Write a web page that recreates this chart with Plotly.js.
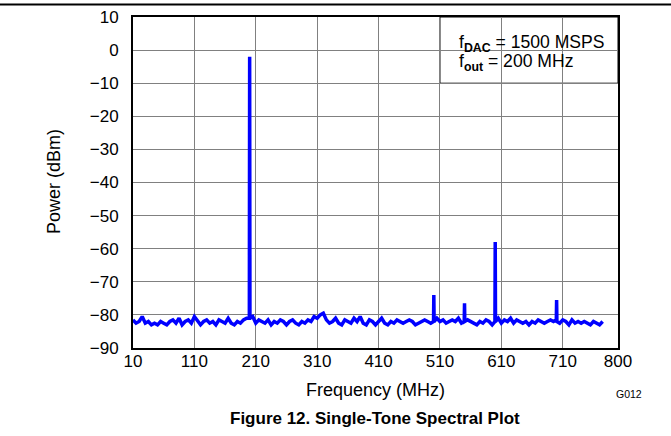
<!DOCTYPE html>
<html>
<head>
<meta charset="utf-8">
<script src="https://cdn.plot.ly/plotly-3.0.1.min.js"></script>
<style>html,body{margin:0;padding:0;background:#fff;}#chart{width:671px;height:436px;}</style>
</head>
<body>
<div id="chart"></div>
<script>
// Frequency (MHz)
const freq = [10,15,20,25,30,35,40,45,50,55,60,65,70,75,80,85,90,95,100,105,110,115,120,125,130,135,140,145,150,155,160,165,170,175,180,185,190,195,199.5,200,200.5,205,210,215,220,225,230,235,240,245,250,255,260,265,270,275,280,285,290,295,300,305,310,315,320,325,330,335,340,345,350,355,360,365,370,375,380,385,390,395,400,405,410,415,420,425,430,435,440,445,450,455,460,465,470,475,480,485,490,495,499.5,500,500.5,505,510,515,520,525,530,535,540,545,549.5,550,550.5,555,560,565,570,575,580,585,590,595,599.5,600,600.5,605,610,615,620,625,630,635,640,645,650,655,660,665,670,675,680,685,690,695,699.5,700,700.5,705,710,715,720,725,730,735,740,745,750,755,760,765,770,775];
// Power (dBm)
const power = [-81.5,-82.5,-82,-80.5,-82.5,-82,-83,-82.5,-83,-82,-82.5,-83,-82,-81.5,-82.5,-81,-83,-82,-81.5,-82.5,-80.5,-82,-83,-82,-81.5,-82.5,-82,-83,-81.5,-82,-82.5,-81,-82.5,-83,-82,-82.5,-81.5,-81,-81,-2,-81,-80.5,-82.5,-81.5,-82,-82.5,-81.5,-83,-82,-82.5,-81.5,-82,-83,-82,-81.5,-82.5,-83,-82,-82.5,-81.5,-82,-80.5,-81,-80,-79.5,-81.5,-82.5,-82,-81,-82.5,-83,-81.5,-82,-82.5,-81,-82,-80.5,-82.5,-83,-81.5,-82,-83,-82,-81,-82.5,-83,-82,-82.5,-81.5,-82,-82.5,-82,-81.5,-82,-83,-82.5,-82,-81.5,-82,-82.5,-82,-74,-82,-81,-82,-81.5,-82.5,-82,-81.5,-82,-81,-82.5,-82,-76.5,-82,-81.5,-82,-82.5,-83,-82,-82.5,-81.5,-82,-83,-82,-58,-82,-81,-82.5,-81.5,-82,-81,-82.5,-81.5,-82,-82.5,-82,-83,-82,-82.5,-81.5,-82,-82.5,-82,-81.5,-82,-81.5,-75.5,-82,-82.5,-81.5,-82,-83,-81.5,-82.5,-82,-82.5,-82,-82.5,-83,-82,-82.5,-83,-82];
const xTicks = [10,110,210,310,410,510,610,710,800];
const yTicks = [10,0,-10,-20,-30,-40,-50,-60,-70,-80,-90];

const font = "Liberation Sans, Arial, sans-serif";
const L = 133, T = 17, W = 485, H = 331;
const px = v => (v - L) / W;        // page x -> paper
const py = v => (T + H - v) / H;    // page y -> paper

const trace = {
  x: freq, y: power, type: 'scatter', mode: 'lines',
  line: {color: '#0000ff', width: 3.5}, hoverinfo: 'skip'
};
const layout = {
  width: 671, height: 436,
  margin: {l: L, r: 671 - L - W, t: T, b: 436 - T - H},
  paper_bgcolor: '#fff', plot_bgcolor: '#fff',
  font: {family: font, size: 17, color: '#000'},
  showlegend: false,
  xaxis: {
    range: [10, 800], tickvals: xTicks, ticktext: xTicks.map(String),
    showgrid: true, gridcolor: '#808080', gridwidth: 1,
    showline: true, linecolor: '#000', linewidth: 2, mirror: true,
    ticks: '', zeroline: false, tickfont: {size: 17}, ticklabelstandoff: -3
  },
  yaxis: {
    range: [-90, 10], tickvals: yTicks,
    showgrid: true, gridcolor: '#808080', gridwidth: 1,
    showline: true, linecolor: '#000', linewidth: 2, mirror: true,
    ticks: '', zeroline: false, tickfont: {size: 17}, ticklabelstandoff: 9
  },
  shapes: [
    {type: 'rect', xref: 'x', yref: 'y', x0: 510, x1: 800, y0: -10, y1: 10,
     fillcolor: '#fff', line: {color: '#000', width: 1}, layer: 'below'},
    {type: 'line', xref: 'paper', yref: 'paper', x0: px(-10), x1: px(690),
     y0: py(4.5), y1: py(4.5), line: {color: '#000', width: 2}}
  ],
  annotations: [
    {xref: 'paper', yref: 'paper', x: px(457), y: py(43), xanchor: 'left', yanchor: 'middle', showarrow: false,
     text: 'f<sub><b>DAC</b></sub> = 1500 MSPS', font: {size: 17.6}},
    {xref: 'paper', yref: 'paper', x: px(457), y: py(63), xanchor: 'left', yanchor: 'middle', showarrow: false,
     text: 'f<sub><b>out</b></sub> = 200 MHz', font: {size: 17.6}},
    {xref: 'paper', yref: 'paper', x: px(54), y: py(182), textangle: -90,
     xanchor: 'center', yanchor: 'middle', showarrow: false, text: 'Power (dBm)', font: {size: 18}},
    {xref: 'paper', yref: 'paper', x: px(375), y: py(390),
     xanchor: 'center', yanchor: 'middle', showarrow: false, text: 'Frequency (MHz)', font: {size: 18}},
    {xref: 'paper', yref: 'paper', x: px(629), y: py(394),
     xanchor: 'center', yanchor: 'middle', showarrow: false, text: 'G012', font: {size: 10.5}},
    {xref: 'paper', yref: 'paper', x: px(375), y: py(418),
     xanchor: 'center', yanchor: 'middle', showarrow: false,
     text: '<b>Figure 12. Single-Tone Spectral Plot</b>', font: {size: 17}}
  ]
};
Plotly.newPlot('chart', [trace], layout, {displayModeBar: false, staticPlot: true});
</script>
</body>
</html>
